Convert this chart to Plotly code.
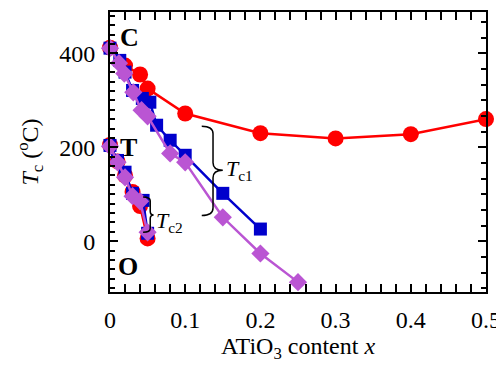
import plotly.graph_objects as go

# ---- data ----
red_up_x = [0, 0.02, 0.04, 0.05, 0.1, 0.2, 0.3, 0.4, 0.5]
red_up_y = [412, 374, 355, 325, 272, 230, 219, 228, 260]
red_lo_x = [0, 0.01, 0.02, 0.03, 0.04, 0.05]
red_lo_y = [205, 170, 140, 105, 75, 6]

blue_up_x = [0, 0.013, 0.02, 0.03, 0.043, 0.053, 0.062, 0.08, 0.1, 0.15, 0.2]
blue_up_y = [411, 385, 360, 321, 304, 296, 247, 215, 183, 102, 26]
blue_lo_x = [0, 0.01, 0.02, 0.03, 0.044, 0.05]
blue_lo_y = [204, 172, 147, 102, 87, 17]

purp_up_x = [0, 0.012, 0.019, 0.031, 0.042, 0.05, 0.08, 0.1, 0.15, 0.2, 0.25]
purp_up_y = [411, 379, 357, 317, 279, 266, 187, 168, 51, -26, -87]
purp_lo_x = [0, 0.01, 0.02, 0.03, 0.04, 0.05]
purp_lo_y = [202, 168, 136, 96, 85, 19]

x_ticks = [0, 0.1, 0.2, 0.3, 0.4, 0.5]
x_ticklabels = ["0", "0.1", "0.2", "0.3", "0.4", "0.5"]
y_ticks = [0, 200, 400]

RED = "#ff0000"
BLUE = "#0000cc"
PURP = "#ba55d3"
FONT = "Times New Roman, Liberation Serif, Tinos, serif"

fig = go.Figure()

def add(x, y, color, symbol, size):
    fig.add_trace(go.Scatter(
        x=x, y=y, mode="lines+markers",
        line=dict(color=color, width=2.5),
        marker=dict(color=color, symbol=symbol, size=size),
        showlegend=False, cliponaxis=False))

add(red_up_x, red_up_y, RED, "circle", 16)
add(red_lo_x, red_lo_y, RED, "circle", 16)
add(blue_up_x, blue_up_y, BLUE, "square", 13)
add(blue_lo_x, blue_lo_y, BLUE, "square", 13)
add(purp_up_x, purp_up_y, PURP, "diamond", 14)
add(purp_lo_x, purp_lo_y, PURP, "diamond", 14)

# invisible trace to activate right axis
fig.add_trace(go.Scatter(x=[0], y=[0], yaxis="y2", mode="markers",
                         marker=dict(opacity=0), showlegend=False, hoverinfo="skip"))

def brace(xl, xe, xt, yt, yb, ym, r):
    return (f"M {xe},{yt} Q {xl},{yt} {xl},{yt - r} L {xl},{ym + r} "
            f"Q {xl},{ym} {xt},{ym} Q {xl},{ym} {xl},{ym - r} "
            f"L {xl},{yb + r} Q {xl},{yb} {xe},{yb}")

fig.add_shape(type="path", path=brace(0.137, 0.122, 0.150, 245, 55, 151, 16),
              line=dict(color="black", width=1.5))
fig.add_shape(type="path", path=brace(0.0535, 0.044, 0.058, 94, 19, 56, 8),
              line=dict(color="black", width=1.5))

ann_font = dict(family=FONT, size=22, color="black")
fig.add_annotation(x=0.152, y=151, text="<i>T</i><sub>c1</sub>", showarrow=False,
                   xanchor="left", font=ann_font)
fig.add_annotation(x=0.059, y=42, text="<i>T</i><sub>c2</sub>", showarrow=False,
                   xanchor="left", font=ann_font)
bold = dict(family=FONT, size=26, color="black")
fig.add_annotation(x=0.011, y=433, text="<b>C</b>", showarrow=False, xanchor="left", font=bold)
fig.add_annotation(x=0.011, y=199, text="<b>T</b>", showarrow=False, xanchor="left", font=bold)
fig.add_annotation(x=0.008, y=-53, text="<b>O</b>", showarrow=False, xanchor="left", font=bold)

tickfont = dict(family=FONT, size=24, color="black")
# page body has an 8px margin, so the figure is drawn 8px smaller and offset
fig.update_layout(
    width=496, height=358,
    margin=dict(l=102, r=18, t=4, b=74),
    plot_bgcolor="white", paper_bgcolor="white",
    font=dict(family=FONT, color="black"),
    xaxis=dict(range=[0, 0.5], tickvals=x_ticks, ticktext=x_ticklabels, automargin=False,
               ticks="inside", ticklen=8, tickwidth=2, tickcolor="black",
               minor=dict(dtick=0.02, ticks="inside", ticklen=5, tickwidth=1.5, tickcolor="black"),
               showline=True, linewidth=2, linecolor="black", mirror="allticks",
               showgrid=False, zeroline=False, tickfont=tickfont, ticklabelstandoff=5,
               title=dict(text="ATiO<sub>3</sub> content <i>x</i>", font=tickfont, standoff=0)),
    yaxis=dict(range=[-108, 488], tickvals=y_ticks, automargin=False,
               ticks="inside", ticklen=8, tickwidth=2, tickcolor="black",
               minor=dict(dtick=20, ticks="inside", ticklen=5, tickwidth=1.5, tickcolor="black"),
               showline=True, linewidth=2, linecolor="black", mirror=True,
               showgrid=False, zeroline=False, tickfont=tickfont, ticklabelstandoff=8,
               title=dict(text="<i>T</i><sub>c</sub> (<sup>o</sup>C)", font=tickfont, standoff=14)),
    yaxis2=dict(range=[-108, 488], overlaying="y", side="right", tickvals=y_ticks,
                showticklabels=False, automargin=False,
                ticks="inside", ticklen=8, tickwidth=2, tickcolor="black",
                minor=dict(tick0=0, dtick=200 / 6, ticks="inside", ticklen=5, tickwidth=1.5,
                           tickcolor="black"),
                showline=False, showgrid=False, zeroline=False),
)

fig.write_html("out.html")
